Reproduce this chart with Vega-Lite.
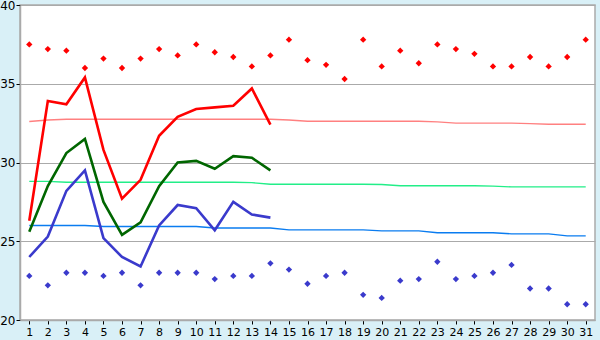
{
  "$schema": "https://vega.github.io/schema/vega-lite/v6.json",
  "width": 575,
  "height": 315,
  "padding": {"left": 20, "top": 5, "right": 5, "bottom": 20},
  "autosize": {"type": "none"},
  "background": "#d9f0f7",
  "config": {
    "view": {"stroke": "#aaaaaa", "strokeWidth": 1.5, "fill": "#ffffff"},
    "axis": {"labelFont": "DejaVu Sans", "labelFontSize": 11, "labelColor": "#000000", "domainColor": "#aaaaaa", "domainWidth": 1.5, "tickColor": "#000000", "tickSize": 4, "title": null}
  },
  "datasets": {
    "rec": [
      {"d":1,"s":"hi","v":37.5},{"d":2,"s":"hi","v":37.2},{"d":3,"s":"hi","v":37.1},{"d":4,"s":"hi","v":36.0},{"d":5,"s":"hi","v":36.6},{"d":6,"s":"hi","v":36.0},{"d":7,"s":"hi","v":36.6},{"d":8,"s":"hi","v":37.2},{"d":9,"s":"hi","v":36.8},{"d":10,"s":"hi","v":37.5},{"d":11,"s":"hi","v":37.0},{"d":12,"s":"hi","v":36.7},{"d":13,"s":"hi","v":36.1},{"d":14,"s":"hi","v":36.8},{"d":15,"s":"hi","v":37.8},{"d":16,"s":"hi","v":36.5},{"d":17,"s":"hi","v":36.2},{"d":18,"s":"hi","v":35.3},{"d":19,"s":"hi","v":37.8},{"d":20,"s":"hi","v":36.1},{"d":21,"s":"hi","v":37.1},{"d":22,"s":"hi","v":36.3},{"d":23,"s":"hi","v":37.5},{"d":24,"s":"hi","v":37.2},{"d":25,"s":"hi","v":36.9},{"d":26,"s":"hi","v":36.1},{"d":27,"s":"hi","v":36.1},{"d":28,"s":"hi","v":36.7},{"d":29,"s":"hi","v":36.1},{"d":30,"s":"hi","v":36.7},{"d":31,"s":"hi","v":37.8},
      {"d":1,"s":"lo","v":22.8},{"d":2,"s":"lo","v":22.2},{"d":3,"s":"lo","v":23.0},{"d":4,"s":"lo","v":23.0},{"d":5,"s":"lo","v":22.8},{"d":6,"s":"lo","v":23.0},{"d":7,"s":"lo","v":22.2},{"d":8,"s":"lo","v":23.0},{"d":9,"s":"lo","v":23.0},{"d":10,"s":"lo","v":23.0},{"d":11,"s":"lo","v":22.6},{"d":12,"s":"lo","v":22.8},{"d":13,"s":"lo","v":22.8},{"d":14,"s":"lo","v":23.6},{"d":15,"s":"lo","v":23.2},{"d":16,"s":"lo","v":22.3},{"d":17,"s":"lo","v":22.8},{"d":18,"s":"lo","v":23.0},{"d":19,"s":"lo","v":21.6},{"d":20,"s":"lo","v":21.4},{"d":21,"s":"lo","v":22.5},{"d":22,"s":"lo","v":22.6},{"d":23,"s":"lo","v":23.7},{"d":24,"s":"lo","v":22.6},{"d":25,"s":"lo","v":22.8},{"d":26,"s":"lo","v":23.0},{"d":27,"s":"lo","v":23.5},{"d":28,"s":"lo","v":22.0},{"d":29,"s":"lo","v":22.0},{"d":30,"s":"lo","v":21.0},{"d":31,"s":"lo","v":21.0}
    ],
    "obs": [
      {"d":1,"s":"max","v":26.3},{"d":2,"s":"max","v":33.9},{"d":3,"s":"max","v":33.7},{"d":4,"s":"max","v":35.4},{"d":5,"s":"max","v":30.8},{"d":6,"s":"max","v":27.7},{"d":7,"s":"max","v":28.9},{"d":8,"s":"max","v":31.7},{"d":9,"s":"max","v":32.9},{"d":10,"s":"max","v":33.4},{"d":11,"s":"max","v":33.5},{"d":12,"s":"max","v":33.6},{"d":13,"s":"max","v":34.7},{"d":14,"s":"max","v":32.4},
      {"d":1,"s":"mean","v":25.6},{"d":2,"s":"mean","v":28.5},{"d":3,"s":"mean","v":30.6},{"d":4,"s":"mean","v":31.5},{"d":5,"s":"mean","v":27.5},{"d":6,"s":"mean","v":25.4},{"d":7,"s":"mean","v":26.2},{"d":8,"s":"mean","v":28.5},{"d":9,"s":"mean","v":30.0},{"d":10,"s":"mean","v":30.1},{"d":11,"s":"mean","v":29.6},{"d":12,"s":"mean","v":30.4},{"d":13,"s":"mean","v":30.3},{"d":14,"s":"mean","v":29.5},
      {"d":1,"s":"min","v":24.0},{"d":2,"s":"min","v":25.3},{"d":3,"s":"min","v":28.2},{"d":4,"s":"min","v":29.5},{"d":5,"s":"min","v":25.2},{"d":6,"s":"min","v":24.0},{"d":7,"s":"min","v":23.4},{"d":8,"s":"min","v":26.0},{"d":9,"s":"min","v":27.3},{"d":10,"s":"min","v":27.1},{"d":11,"s":"min","v":25.7},{"d":12,"s":"min","v":27.5},{"d":13,"s":"min","v":26.7},{"d":14,"s":"min","v":26.5}
    ],
    "norm": [
      {"d":1,"s":"nmax","v":32.6},{"d":2,"s":"nmax","v":32.7},{"d":3,"s":"nmax","v":32.75},{"d":4,"s":"nmax","v":32.75},{"d":5,"s":"nmax","v":32.75},{"d":6,"s":"nmax","v":32.75},{"d":7,"s":"nmax","v":32.75},{"d":8,"s":"nmax","v":32.75},{"d":9,"s":"nmax","v":32.75},{"d":10,"s":"nmax","v":32.75},{"d":11,"s":"nmax","v":32.75},{"d":12,"s":"nmax","v":32.75},{"d":13,"s":"nmax","v":32.75},{"d":14,"s":"nmax","v":32.75},{"d":15,"s":"nmax","v":32.7},{"d":16,"s":"nmax","v":32.62},{"d":17,"s":"nmax","v":32.62},{"d":18,"s":"nmax","v":32.62},{"d":19,"s":"nmax","v":32.62},{"d":20,"s":"nmax","v":32.62},{"d":21,"s":"nmax","v":32.62},{"d":22,"s":"nmax","v":32.62},{"d":23,"s":"nmax","v":32.58},{"d":24,"s":"nmax","v":32.5},{"d":25,"s":"nmax","v":32.5},{"d":26,"s":"nmax","v":32.5},{"d":27,"s":"nmax","v":32.5},{"d":28,"s":"nmax","v":32.47},{"d":29,"s":"nmax","v":32.43},{"d":30,"s":"nmax","v":32.43},{"d":31,"s":"nmax","v":32.43},
      {"d":1,"s":"nmean","v":28.8},{"d":2,"s":"nmean","v":28.8},{"d":3,"s":"nmean","v":28.75},{"d":4,"s":"nmean","v":28.75},{"d":5,"s":"nmean","v":28.75},{"d":6,"s":"nmean","v":28.75},{"d":7,"s":"nmean","v":28.75},{"d":8,"s":"nmean","v":28.75},{"d":9,"s":"nmean","v":28.75},{"d":10,"s":"nmean","v":28.75},{"d":11,"s":"nmean","v":28.75},{"d":12,"s":"nmean","v":28.75},{"d":13,"s":"nmean","v":28.72},{"d":14,"s":"nmean","v":28.62},{"d":15,"s":"nmean","v":28.62},{"d":16,"s":"nmean","v":28.62},{"d":17,"s":"nmean","v":28.62},{"d":18,"s":"nmean","v":28.62},{"d":19,"s":"nmean","v":28.62},{"d":20,"s":"nmean","v":28.6},{"d":21,"s":"nmean","v":28.52},{"d":22,"s":"nmean","v":28.52},{"d":23,"s":"nmean","v":28.52},{"d":24,"s":"nmean","v":28.52},{"d":25,"s":"nmean","v":28.52},{"d":26,"s":"nmean","v":28.5},{"d":27,"s":"nmean","v":28.45},{"d":28,"s":"nmean","v":28.45},{"d":29,"s":"nmean","v":28.45},{"d":30,"s":"nmean","v":28.45},{"d":31,"s":"nmean","v":28.45},
      {"d":1,"s":"nmin","v":26.0},{"d":2,"s":"nmin","v":26.0},{"d":3,"s":"nmin","v":26.0},{"d":4,"s":"nmin","v":26.0},{"d":5,"s":"nmin","v":25.94},{"d":6,"s":"nmin","v":25.94},{"d":7,"s":"nmin","v":25.94},{"d":8,"s":"nmin","v":25.94},{"d":9,"s":"nmin","v":25.94},{"d":10,"s":"nmin","v":25.94},{"d":11,"s":"nmin","v":25.84},{"d":12,"s":"nmin","v":25.84},{"d":13,"s":"nmin","v":25.84},{"d":14,"s":"nmin","v":25.84},{"d":15,"s":"nmin","v":25.72},{"d":16,"s":"nmin","v":25.72},{"d":17,"s":"nmin","v":25.72},{"d":18,"s":"nmin","v":25.72},{"d":19,"s":"nmin","v":25.72},{"d":20,"s":"nmin","v":25.66},{"d":21,"s":"nmin","v":25.66},{"d":22,"s":"nmin","v":25.66},{"d":23,"s":"nmin","v":25.54},{"d":24,"s":"nmin","v":25.54},{"d":25,"s":"nmin","v":25.54},{"d":26,"s":"nmin","v":25.54},{"d":27,"s":"nmin","v":25.47},{"d":28,"s":"nmin","v":25.47},{"d":29,"s":"nmin","v":25.47},{"d":30,"s":"nmin","v":25.34},{"d":31,"s":"nmin","v":25.34}
    ]
  },
  "encoding": {
    "x": {"field": "d", "type": "quantitative", "scale": {"domain": [0.5, 31.5], "nice": false, "zero": false},
      "axis": {"values": [1,2,3,4,5,6,7,8,9,10,11,12,13,14,15,16,17,18,19,20,21,22,23,24,25,26,27,28,29,30,31], "grid": false, "labelPadding": 2, "labelFontSize": 11}},
    "y": {"field": "v", "type": "quantitative", "scale": {"domain": [20, 40], "nice": false, "zero": false},
      "axis": {"values": [20,25,30,35,40], "grid": true, "gridColor": "#aaaaaa", "gridWidth": 1, "gridOpacity": 1, "labelPadding": 1, "labelFontSize": 12}},
    "color": {"field": "s", "type": "nominal", "legend": null,
      "scale": {"domain": ["hi","lo","max","mean","min","nmax","nmean","nmin"],
        "range": ["#ff0000","#3a3acc","#ff0000","#006600","#3a3acc","#ff8080","#22ee88","#0a7cf0"]}}
  },
  "layer": [
    {"data": {"name": "norm"}, "mark": {"type": "line", "strokeWidth": 1.4}, "encoding": {"detail": {"field": "s"}}},
    {"data": {"name": "obs"}, "mark": {"type": "line", "strokeWidth": 2.6}, "encoding": {"detail": {"field": "s"}}},
    {"data": {"name": "rec"}, "mark": {"type": "point", "shape": "diamond", "filled": true, "size": 40, "opacity": 1}}
  ]
}
